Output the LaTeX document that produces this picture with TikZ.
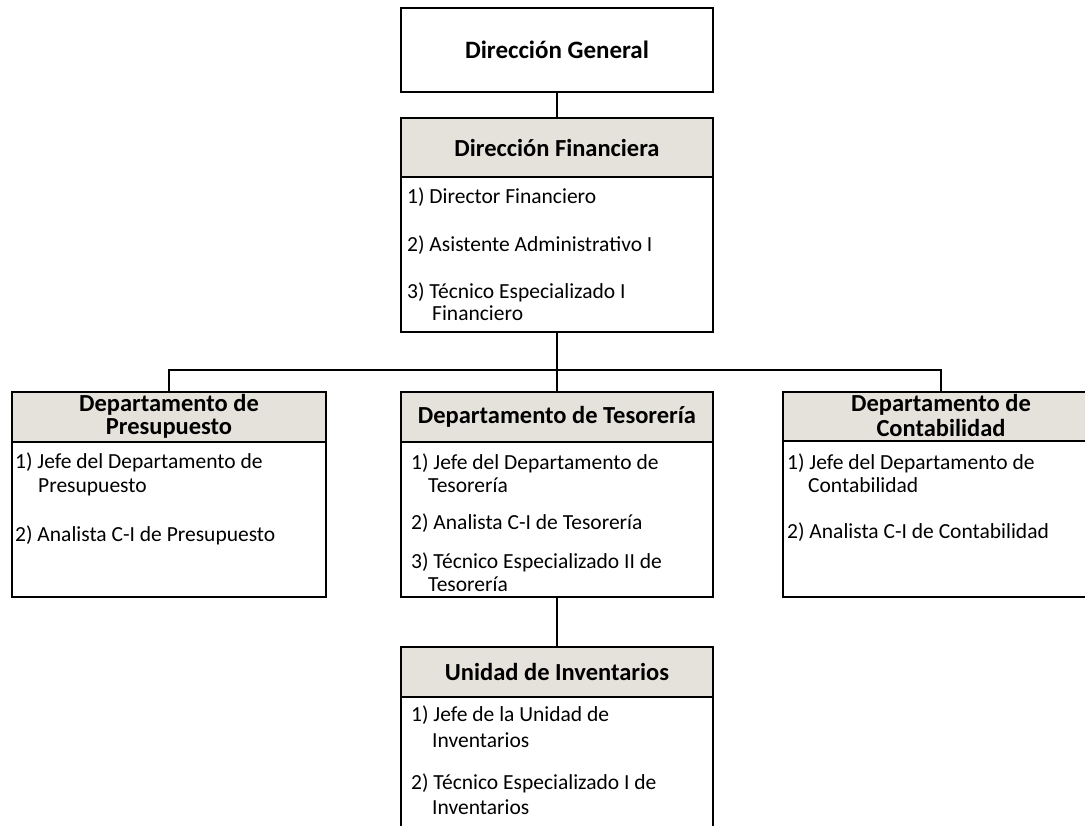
\documentclass[tikz,border=0pt]{standalone}
\usepackage{fontspec}
\setmainfont{Carlito}
\definecolor{hdrfill}{HTML}{E5E1DB}
\tikzset{
  box/.style={draw=black, line width=1.8pt, rectangle, inner sep=0pt, outer sep=0pt, anchor=north west},
  hdr/.style={box, fill=hdrfill},
  item/.style={anchor=west, inner sep=0pt, font=\fontsize{21.5}{24}\selectfont},
  htext/.style={inner sep=0pt, font=\bfseries\fontsize{24.5}{26}\selectfont, align=center},
  conn/.style={draw=black, line width=1.8pt}
}
\begin{document}
\begin{tikzpicture}[x=1pt,y=-1pt]
\useasboundingbox (0,0) rectangle (1085,826);
\clip (0,0) rectangle (1085,826);
\fill[white] (0,0) rectangle (1085,826);

% Dirección General
\node[box, minimum width=312pt, minimum height=84pt] (dg) at (401,8) {};
\node[htext, font=\bfseries\fontsize{25}{27}\selectfont] (dgt) at (557,50) {Dirección General};

% Dirección Financiera
\node[hdr, minimum width=312pt, minimum height=59pt] (dfh) at (401,118) {};
\node[htext] (dfht) at (557,148) {Dirección Financiera};
\node[box, minimum width=312pt, minimum height=155pt] (dfb) at (401,177) {};
\node[item] (df1) at (407,197) {1) Director Financiero};
\node[item] (df2) at (407,245) {2) Asistente Administrativo I};
\node[item] (df3) at (407,292) {3) Técnico Especializado I};
\node[item] (df3b) at (432,313) {Financiero};

% Departamento de Presupuesto
\node[hdr, minimum width=314pt, minimum height=50pt] (presh) at (12,392) {};
\node[htext] (presht1) at (169,405) {Departamento de};
\node[htext] (presht2) at (169,428) {Presupuesto};
\node[box, minimum width=314pt, minimum height=155pt] (presb) at (12,442) {};
\node[item] (pr1) at (15,462) {1) Jefe del Departamento de};
\node[item] (pr1b) at (38,487) {Presupuesto};
\node[item] (pr2) at (15,535) {2) Analista C-I de Presupuesto};

% Departamento de Tesorería
\node[hdr, minimum width=312pt, minimum height=50pt] (tesh) at (401,392) {};
\node[htext] (tesht) at (557,417) {Departamento de Tesorería};
\node[box, minimum width=312pt, minimum height=155pt] (tesb) at (401,442) {};
\node[item] (te1) at (411,463) {1) Jefe del Departamento de};
\node[item] (te1b) at (428,485) {Tesorería};
\node[item] (te2) at (411,523) {2) Analista C-I de Tesorería};
\node[item] (te3) at (411,562) {3) Técnico Especializado II de};
\node[item] (te3b) at (428,584) {Tesorería};

% Departamento de Contabilidad
\node[hdr, minimum width=316pt, minimum height=49pt] (conth) at (783,392) {};
\node[htext] (contht1) at (941,405) {Departamento de};
\node[htext] (contht2) at (941,428) {Contabilidad};
\node[box, minimum width=316pt, minimum height=156pt] (contb) at (783,441) {};
\node[item] (co1) at (787,463) {1) Jefe del Departamento de};
\node[item] (co1b) at (808,485) {Contabilidad};
\node[item] (co2) at (787,532) {2) Analista C-I de Contabilidad};

% Unidad de Inventarios
\node[hdr, minimum width=312pt, minimum height=50pt] (invh) at (401,647) {};
\node[htext] (invht) at (557,672) {Unidad de Inventarios};
\node[box, minimum width=312pt, minimum height=140pt] (invb) at (401,697) {};
\node[item] (in1) at (411,715) {1) Jefe de la Unidad de};
\node[item] (in1b) at (432,740) {Inventarios};
\node[item] (in2) at (411,783) {2) Técnico Especializado I de};
\node[item] (in2b) at (432,807) {Inventarios};

% Connectors
\coordinate (bus) at (557,370);
\draw[conn] (dg.south) -- (dfh.north);
\draw[conn] (dfb.south) -- (bus);
\draw[conn] (presh.north) |- (bus) -| (conth.north);
\draw[conn] (bus) -- (tesh.north);
\draw[conn] (tesb.south) -- (invh.north);
\end{tikzpicture}
\end{document}
